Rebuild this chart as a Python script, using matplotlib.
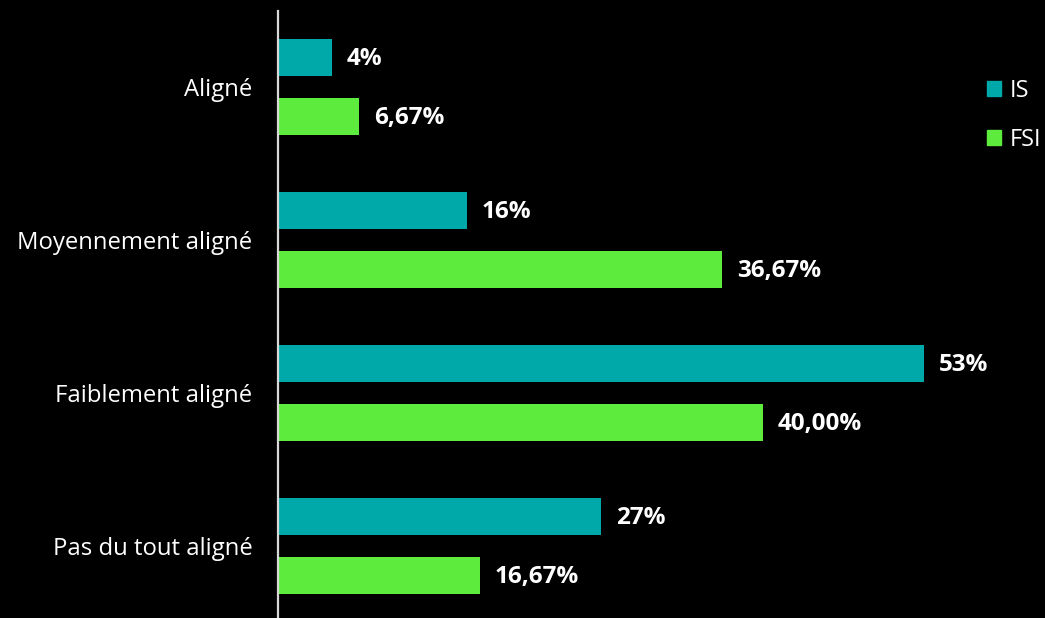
import matplotlib
matplotlib.use("Agg")
import matplotlib.pyplot as plt
from matplotlib.patches import Patch

plt.rcParams['font.family'] = ['Open Sans', 'DejaVu Sans']

categories = ["Aligné", "Moyennement aligné", "Faiblement aligné", "Pas du tout aligné"]
is_values = [4.44, 15.56, 53.33, 26.67]
fsi_values = [6.67, 36.67, 40.00, 16.67]
series_names = ["IS", "FSI"]

IS_COLOR = "#00A9A9"
FSI_COLOR = "#5DEB3D"
BG = "#000000"


def fmt_is(v):
    return f"{v:.0f}%"


def fmt_fsi(v):
    return f"{v:.2f}".replace(".", ",") + "%"


W, H = 1045, 618
fig = plt.figure(figsize=(W / 100, H / 100), dpi=100, facecolor=BG)
left_px = 278
px_per_unit = 12.12
ax = fig.add_axes([left_px / W, -4.5 / H, (W - left_px) / W, 1 - 10.5 / H + 4.5 / H])
ax.set_facecolor(BG)

ypos = list(range(len(categories)))
h = 0.242
off = 0.194
ax.barh([y - off for y in ypos], is_values, height=h, color=IS_COLOR, label=series_names[0])
ax.barh([y + off for y in ypos], fsi_values, height=h, color=FSI_COLOR, label=series_names[1])

ax.set_xlim(0, (W - left_px) / px_per_unit)
ax.set_ylim(len(categories) - 0.5, -0.5)

pad = 15 / px_per_unit
for y, v in zip(ypos, is_values):
    ax.text(v + pad, y - off + 0.01, fmt_is(v), color="white", fontsize=17.5, fontweight="bold",
            va="center", ha="left")
for y, v in zip(ypos, fsi_values):
    ax.text(v + pad, y + off + 0.01, fmt_fsi(v), color="white", fontsize=17.5, fontweight="bold",
            va="center", ha="left")

ax.set_yticks(ypos)
ax.set_yticklabels(categories, color="white", fontsize=17.2)
ax.tick_params(axis="y", length=0, pad=18.5)
ax.set_xticks([])
for s in ["top", "right", "bottom"]:
    ax.spines[s].set_visible(False)
ax.spines["left"].set_color("#d8d8d8")
ax.spines["left"].set_linewidth(1.6)

handles = [Patch(color=IS_COLOR), Patch(color=FSI_COLOR)]
leg = fig.legend(handles, series_names, loc="upper left", bbox_to_anchor=(987 / W, 1 - 79 / H),
                 frameon=False, fontsize=17, labelcolor="white", handlelength=0.6,
                 handleheight=0.6, handletextpad=0.35, labelspacing=1.05,
                 borderpad=0, borderaxespad=0)

fig.savefig("out.png", dpi=100, facecolor=BG)
